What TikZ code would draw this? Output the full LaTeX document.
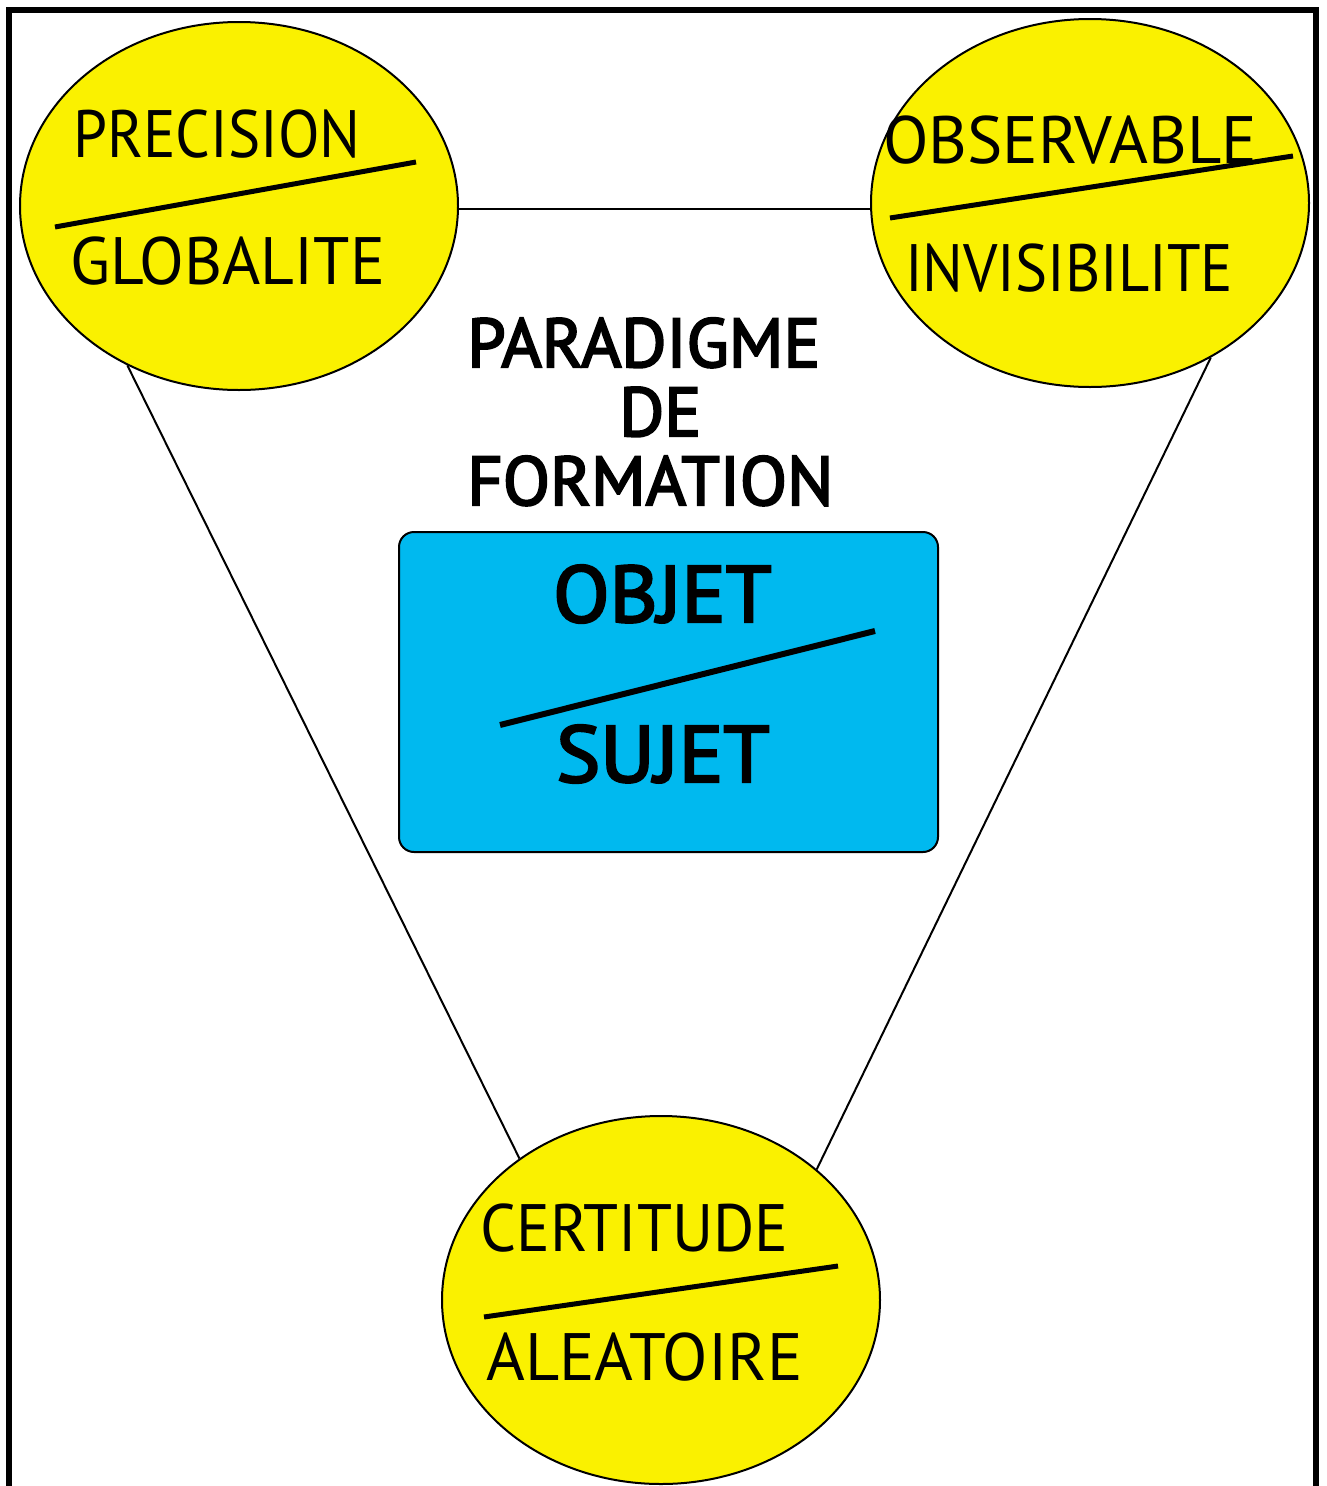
\documentclass[tikz,border=0pt]{standalone}
\usepackage{fontspec}
\setmainfont{PT Sans}
\newfontfamily\pmain[FakeStretch=0.92]{PT Sans}
\newfontfamily\pbold[FakeStretch=1.0,FakeBold=3]{PT Sans}
\usetikzlibrary{shapes.geometric}
\definecolor{ovalyellow}{RGB}{250,241,0}
\definecolor{boxblue}{RGB}{0,185,239}
\tikzset{
  oval/.style={ellipse, draw=black, line width=2pt, fill=ovalyellow, minimum width=438pt, minimum height=368pt, inner sep=0pt},
  bluebox/.style={rectangle, rounded corners=15pt, draw=black, line width=2pt, fill=boxblue, minimum width=539pt, minimum height=320pt, inner sep=0pt},
  link/.style={draw=black, line width=2pt},
  slash/.style={draw=black, line width=5pt},
  frameline/.style={draw=black, line width=6pt, line join=miter},
  lbl/.style={anchor=base west, inner sep=0pt, font=\pmain\fontsize{67}{80}\selectfont},
  title/.style={anchor=base west, inner sep=0pt, font=\pbold\fontsize{69}{80}\selectfont},
  big/.style={anchor=base west, inner sep=0pt, font=\pbold\fontsize{80}{90}\selectfont}
}
\begin{document}
\begin{tikzpicture}[x=1pt,y=-1pt]
\useasboundingbox (0,0) rectangle (1326,1486);
\fill[white] (0,0) rectangle (1326,1486);
% frame (open at bottom)
\draw[frameline] (9,1490) -- (9,10) -- (1316,10) -- (1316,1490);
% nodes
\node[oval] (tl) at (239,206) {};
\node[oval] (tr) at (1090,203) {};
\node[oval] (bt) at (661,1300) {};
\node[bluebox] (box) at (668.5,692) {};
% connectors
\draw[link] (tl.east |- 0,209) -- (tr.west |- 0,209);
\draw[link] (tl.235.9) -- (bt.135.8);
\draw[link] (tr.308.4) -- (bt.40.2);
% slashes
\draw[slash] (55,227) -- (416,162);
\draw[slash] (890,218) -- (1293,156);
\draw[slash] (484,1317) -- (838,1266);
\draw[slash, line width=6pt] (500,725) -- (875,631);
% texts
\node[lbl] (t1) at (73,157) {\scalebox{0.986}[1]{PRECISION}};
\node[lbl] (t2) at (70,284) {\scalebox{1.061}[1]{GLOBALITE}};
\node[lbl] (t3) at (883,163) {\scalebox{1.079}[1]{OBSERVABLE}};
\node[lbl] (t4) at (905,291) {\scalebox{0.982}[1]{INVISIBILITE}};
\node[lbl] (t5) at (480,1251) {\scalebox{1.023}[1]{CERTITUDE}};
\node[lbl] (t6) at (486,1380) {\scalebox{1.076}[1]{ALEATOIRE}};
\node[title] (p1) at (467,367) {PARADIGME};
\node[title] (p2) at (619,436) {DE};
\node[title] (p3) at (467,505) {FORMATION};
\node[big] (o1) at (553,622) {\scalebox{1.03}[1]{OBJET}};
\node[big] (o2) at (556,782) {\scalebox{1.04}[1]{SUJET}};
\end{tikzpicture}
\end{document}
